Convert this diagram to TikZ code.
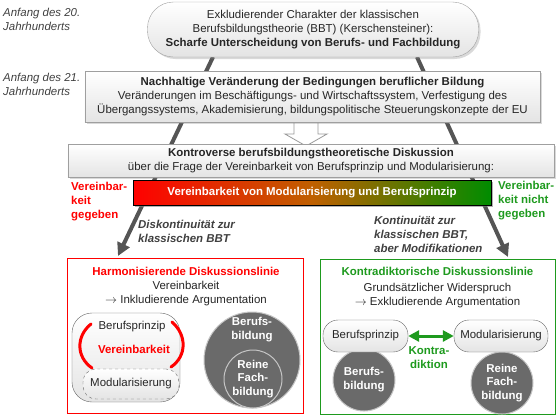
\documentclass[tikz,border=0pt]{standalone}
\usepackage{fontspec}
\setmainfont{Liberation Sans}
\usetikzlibrary{shadows,arrows.meta}
\definecolor{dgreen}{HTML}{1E9A1E}
\definecolor{lgray}{HTML}{E4E4E4}
\definecolor{lineg}{HTML}{555555}
\definecolor{txtg}{HTML}{404040}
\definecolor{circg}{HTML}{6A6A6A}
\newcommand\fsz{\fontsize{11.5}{14}\selectfont}
\newcommand\myarrow{$\rightarrow$}
\begin{document}
\begin{tikzpicture}[x=1bp,y=-1bp,
  every node/.style={font=\fsz, inner sep=0pt, align=center, text=black!85},
  shbox/.style={draw=gray!75, top color=white, bottom color=lgray,
    drop shadow={shadow xshift=2bp, shadow yshift=-2bp, opacity=0.3}},
  bigline/.style={draw=lineg, line width=4bp, -{Triangle[length=13bp,width=13bp]}},
  linebox/.style={draw=#1, line width=1bp, fill=white, minimum width=235bp, minimum height=155bp},
  lefttxt/.style={align=left, anchor=west},
  pillbox/.style={draw=gray!80!black, top color=white, bottom color=lgray, rounded corners=15bp, minimum height=32bp},
  circ/.style={circle, draw=gray!45, line width=1bp, fill=circg, text=white, font=\bfseries\fsz},
  ctext/.style={text=white, font=\bfseries\fsz},
  redarc/.style={draw=red, line width=3bp, line cap=round}
]
\useasboundingbox (0,0) rectangle (560,419);

% long background connectors
\coordinate (ls) at (213,57);
\coordinate (le) at (118,256);
\coordinate (rs) at (417,57);
\coordinate (re) at (508,257);
\draw[bigline] (ls) -- (le);
\draw[bigline] (rs) -- (re);

% block arrow
\draw[draw=gray!80, fill=white, line width=0.8bp] (294,121) -- (318,121) -- (318,134) -- (327,134) -- (306,146) -- (285,134) -- (294,134) -- cycle;

% top pill
\node[shbox, rounded corners=26bp, minimum width=331bp, minimum height=55bp] (top) at (313,29.5)
  {Exkludierender Charakter der klassischen\\ Berufsbildungstheorie (BBT) (Kerschensteiner):\\ \textbf{Scharfe Unterscheidung von Berufs- und Fachbildung}};

% box 2
\node[shbox, minimum width=455bp, minimum height=51bp] (chg) at (312.5,96.5)
  {\textbf{Nachhaltige Veränderung der Bedingungen beruflicher Bildung}\\
   Veränderungen im Beschäftigungs- und Wirtschaftssystem, Verfestigung des\\
   Übergangssystems, Akademisierung, bildungspolitische Steuerungskonzepte der EU};

% box 3
\node[shbox, minimum width=486bp, minimum height=33bp] (kontro) at (311,160.5)
  {\textbf{Kontroverse berufsbildungstheoretische Diskussion}\\
   über die Frage der Vereinbarkeit von Berufsprinzip und Modularisierung:};

% gradient bar
\node[draw=black, line width=1bp, shading=axis, left color=red, right color=green!55!black, middle color=orange!75!black,
  minimum width=358bp, minimum height=25bp, text=white, font=\bfseries\fsz,
  drop shadow={shadow xshift=2bp, shadow yshift=-2bp, opacity=0.6}] (bar) at (312,192.5)
  {Vereinbarkeit von Modularisierung und Berufsprinzip};

% side labels
\node[lefttxt, text=txtg, font=\itshape\fsz] (a20) at (3,19.5) {Anfang des 20.\\Jahrhunderts};
\node[lefttxt, text=txtg, font=\itshape\fsz] (a21) at (3,84) {Anfang des 21.\\Jahrhunderts};
\node[lefttxt, text=red, font=\bfseries\fsz] (vg) at (71,201.5) {Vereinbar-\\keit\\gegeben};
\node[lefttxt, text=dgreen, font=\bfseries\fsz] (vng) at (498,201) {Vereinbar-\\keit nicht\\gegeben};
\node[lefttxt, text=txtg, font=\bfseries\itshape\fsz] (disk) at (138,231.5) {Diskontinuität zur\\klassischen BBT};
\node[lefttxt, text=txtg, font=\bfseries\itshape\fsz] (kont) at (374,234) {Kontinuität zur\\klassischen BBT,\\aber Modifikationen};

% outer boxes
\node[linebox=red] (harm) at (185.5,335.5) {};
\node[linebox=dgreen] (kdl) at (437.5,336.5) {};

% left box content
\node[text=red, font=\bfseries\fsz] (harmt) at (186,271) {Harmonisierende Diskussionslinie};
\node (harms) at (186,294) {Vereinbarkeit\\\myarrow{} Inkludierende Argumentation};
\node[draw=gray!80!black, top color=white, bottom color=lgray, rounded corners=20bp, minimum width=108bp, minimum height=89bp] (inner) at (126,357.5) {};
\node[draw=gray!80!black, dashed, top color=white, bottom color=lgray, rounded corners=13bp, minimum width=96bp, minimum height=30bp] (mod1) at (131,384) {Modularisierung};
\node (bp1) at (132,327) {Berufsprinzip};
\node[text=red, font=\bfseries\fsz] (ver1) at (134,349) {Vereinbarkeit};
\draw[redarc] (91,324) .. controls (76,336) and (76,357) .. (92,368);
\draw[redarc] (172,322) .. controls (187,335) and (187,356) .. (171,367);

\node[circ, minimum size=96bp] (bbc) at (252,360) {};
\node[ctext] (bbt) at (252,329.5) {Berufs-\\bildung};
\node[circ, minimum size=58bp] (rfc) at (253,379) {Reine\\Fach-\\bildung};

% right box content
\node[text=dgreen, font=\bfseries\fsz] (kdlt) at (437.5,271) {Kontradiktorische Diskussionslinie};
\node (kdls) at (437.5,295.5) {Grundsätzlicher Widerspruch\\\myarrow{} Exkludierende Argumentation};
\node[circ, minimum size=62bp] (bb2) at (364,380) {Berufs-\\bildung};
\node[circ, minimum size=62bp] (rf2) at (502,383) {Reine\\Fach-\\bildung};
\node[pillbox, minimum width=85bp] (bp2) at (365.5,336) {Berufsprinzip};
\node[pillbox, minimum width=94bp] (mod2) at (501,336) {Modularisierung};
\draw[draw=dgreen, line width=3bp, {Triangle[length=11bp,width=11bp]}-{Triangle[length=11bp,width=11bp]}] (bp2.east) -- (mod2.west);
\node[text=dgreen, font=\bfseries\fsz] (kd) at (429,357.5) {Kontra-\\diktion};
\end{tikzpicture}
\end{document}
